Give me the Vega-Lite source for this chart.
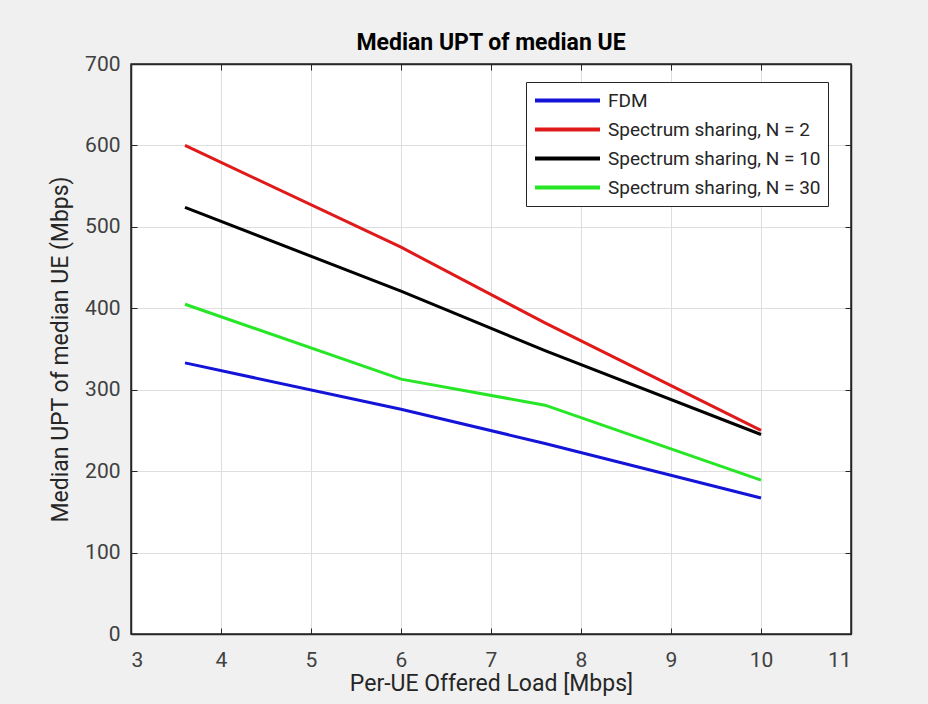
{
  "$schema": "https://vega.github.io/schema/vega-lite/v6.json",
  "width": 720,
  "height": 570,
  "autosize": {"type": "none"},
  "padding": {"left": 131, "top": 64, "right": 77, "bottom": 70},
  "background": "#f0f0f0",
  "title": {"text": "Median UPT of median UE", "fontSize": 23, "fontWeight": "bold", "font": "Roboto", "color": "#000000", "anchor": "middle", "offset": -2},
  "config": {
    "font": "Roboto",
    "view": {"fill": "white", "stroke": "#262626", "strokeWidth": 1.5}
  },
  "data": {"values": [
    {"series": "FDM", "load": 3.6, "upt": 333},
    {"series": "FDM", "load": 6, "upt": 276},
    {"series": "FDM", "load": 7.6, "upt": 234},
    {"series": "FDM", "load": 10, "upt": 167},
    {"series": "Spectrum sharing, N = 2", "load": 3.6, "upt": 600},
    {"series": "Spectrum sharing, N = 2", "load": 6, "upt": 475},
    {"series": "Spectrum sharing, N = 2", "load": 7.6, "upt": 382},
    {"series": "Spectrum sharing, N = 2", "load": 10, "upt": 250},
    {"series": "Spectrum sharing, N = 10", "load": 3.6, "upt": 524},
    {"series": "Spectrum sharing, N = 10", "load": 6, "upt": 421},
    {"series": "Spectrum sharing, N = 10", "load": 7.6, "upt": 348},
    {"series": "Spectrum sharing, N = 10", "load": 10, "upt": 245},
    {"series": "Spectrum sharing, N = 30", "load": 3.6, "upt": 405},
    {"series": "Spectrum sharing, N = 30", "load": 6, "upt": 313},
    {"series": "Spectrum sharing, N = 30", "load": 7.6, "upt": 281},
    {"series": "Spectrum sharing, N = 30", "load": 10, "upt": 189}
  ]},
  "encoding": {
    "x": {
      "field": "load", "type": "quantitative",
      "scale": {"domain": [3, 11], "nice": false, "zero": false}
    },
    "y": {
      "field": "upt", "type": "quantitative",
      "scale": {"domain": [0, 700], "nice": false}
    }
  },
  "layer": [
    {
      "mark": {"type": "line", "strokeWidth": 3},
      "encoding": {
        "x": {
          "field": "load", "type": "quantitative",
          "axis": {
            "orient": "bottom",
            "title": "Per-UE Offered Load [Mbps]", "titleFontSize": 23, "titleFontWeight": "normal", "titleColor": "#262626", "titlePadding": 2,
            "values": [3, 4, 5, 6, 7, 8, 9, 10, 11], "labelFontSize": 21, "labelColor": "#404040", "labelPadding": 21,
            "tickSize": -6, "tickColor": "#262626", "domainColor": "#262626", "domainWidth": 1.5,
            "grid": true, "gridColor": "#dedede", "gridWidth": 1
          }
        },
        "y": {
          "field": "upt", "type": "quantitative",
          "axis": {
            "orient": "left",
            "title": "Median UPT of median UE (Mbps)", "titleFontSize": 23, "titleFontWeight": "normal", "titleColor": "#262626", "titlePadding": 12,
            "values": [0, 100, 200, 300, 400, 500, 600, 700], "labelFontSize": 21, "labelColor": "#404040", "labelPadding": 17,
            "tickSize": -6, "tickColor": "#262626", "domainColor": "#262626", "domainWidth": 1.5,
            "grid": true, "gridColor": "#dedede", "gridWidth": 1
          }
        },
        "color": {
          "field": "series", "type": "nominal",
          "scale": {
            "domain": ["FDM", "Spectrum sharing, N = 2", "Spectrum sharing, N = 10", "Spectrum sharing, N = 30"],
            "range": ["#1414d8", "#e01a1a", "#000000", "#26e626"]
          },
          "legend": {
            "title": null, "orient": "none", "legendX": 395, "legendY": 18,
            "symbolType": "stroke", "symbolSize": 4225, "symbolStrokeWidth": 4,
            "clipHeight": 23, "rowPadding": 6,
            "labelFontSize": 19, "labelColor": "#262626", "labelOffset": 6, "labelLimit": 400,
            "padding": 7,
            "strokeColor": "#262626", "fillColor": "white", "cornerRadius": 0
          }
        }
      }
    },
    {
      "mark": {"type": "line", "opacity": 0},
      "encoding": {
        "x": {
          "field": "load", "type": "quantitative",
          "axis": {"orient": "top", "title": null, "labels": false, "values": [3, 4, 5, 6, 7, 8, 9, 10, 11], "tickSize": -6, "tickColor": "#262626", "domainColor": "#262626", "domainWidth": 1.5, "grid": false}
        },
        "y": {
          "field": "upt", "type": "quantitative",
          "axis": {"orient": "right", "title": null, "labels": false, "values": [0, 100, 200, 300, 400, 500, 600, 700], "tickSize": -6, "tickColor": "#262626", "domainColor": "#262626", "domainWidth": 1.5, "grid": false}
        },
        "detail": {"field": "series"}
      }
    }
  ],
  "resolve": {"axis": {"x": "independent", "y": "independent"}}
}
